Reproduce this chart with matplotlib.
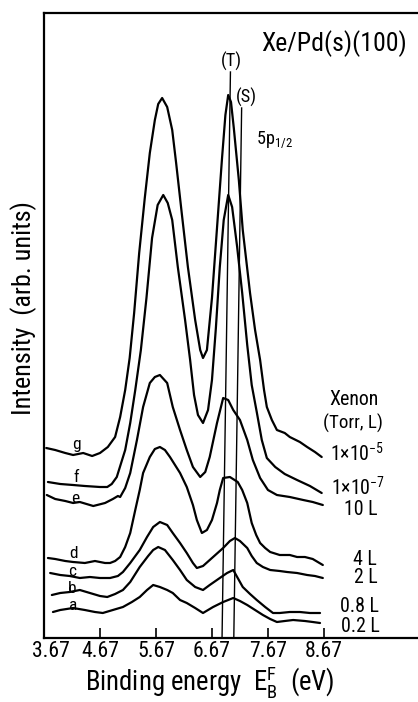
import matplotlib
matplotlib.use("Agg")
import matplotlib.pyplot as plt
from matplotlib import font_manager
from matplotlib.transforms import ScaledTranslation

installed = {f.name for f in font_manager.fontManager.ttflist}
narrow_candidates = ['Liberation Sans Narrow', 'DejaVu Sans Condensed', 'Roboto Condensed',
                     'Open Sans Condensed', 'Noto Sans Condensed', 'Roboto']
main_font = next((n for n in narrow_candidates if n in installed), 'DejaVu Sans')

plt.rcParams['font.family'] = [main_font, 'DejaVu Sans']
plt.rcParams['mathtext.fontset'] = 'custom'
plt.rcParams['mathtext.rm'] = main_font
plt.rcParams['mathtext.it'] = main_font
plt.rcParams['mathtext.bf'] = main_font

# ---- spectra: binding energy (eV) vs intensity (arb. units, stacked) ----
energy_a = [3.83, 3.96, 4.19, 4.40, 4.58, 4.72, 4.90, 5.08, 5.24, 5.38, 5.51, 5.62, 5.74, 5.87, 5.97,
            6.10, 6.22, 6.37, 6.51, 6.60, 6.69, 6.87, 7.05, 7.17, 7.30, 7.44, 7.58, 7.71, 7.83, 7.97,
            8.12, 8.33, 8.47, 8.60]
intensity_a = [2.6, 2.8, 3.0, 2.8, 2.6, 2.5, 2.8, 3.1, 3.6, 4.1, 4.8, 5.3, 5.1, 4.8, 4.5,
               3.8, 3.5, 3.0, 2.5, 2.8, 3.1, 3.6, 4.0, 3.7, 3.3, 2.8, 2.3, 1.9, 1.6, 1.7,
               1.8, 1.7, 1.6, 1.5]

energy_b = [3.81, 3.96, 4.13, 4.31, 4.49, 4.67, 4.80, 4.94, 5.08, 5.21, 5.38, 5.53, 5.62, 5.71, 5.83,
            5.97, 6.10, 6.22, 6.37, 6.51, 6.63, 6.81, 6.94, 7.05, 7.13, 7.22, 7.35, 7.47, 7.62, 7.76,
            7.88, 8.06, 8.24, 8.42, 8.60]
intensity_b = [4.3, 4.5, 4.6, 4.8, 4.5, 4.2, 4.1, 4.4, 4.8, 5.6, 7.1, 8.2, 8.8, 9.1, 8.8,
               7.8, 6.8, 5.8, 5.1, 4.8, 5.3, 6.0, 6.5, 6.8, 6.0, 5.1, 4.4, 3.8, 3.1, 2.5,
               2.5, 2.6, 2.6, 2.5, 2.5]

energy_c = [3.78, 3.96, 4.13, 4.31, 4.49, 4.67, 4.85, 4.99, 5.08, 5.21, 5.38, 5.51, 5.62, 5.74, 5.87,
            5.97, 6.10, 6.22, 6.33, 6.40, 6.51, 6.69, 6.87, 6.99, 7.08, 7.17, 7.30, 7.38, 7.47, 7.58,
            7.71, 7.88, 8.01, 8.19, 8.37, 8.51, 8.65]
intensity_c = [6.5, 6.3, 6.2, 6.0, 6.1, 6.0, 6.0, 6.2, 6.6, 7.5, 8.8, 10.1, 11.1, 11.6, 11.3,
               10.5, 9.5, 8.5, 7.5, 7.0, 7.2, 8.1, 9.0, 9.7, 10.0, 9.7, 9.0, 8.2, 7.5, 7.1,
               6.8, 6.7, 6.6, 6.5, 6.3, 6.2, 6.0]

energy_d = [3.74, 3.87, 4.05, 4.19, 4.40, 4.58, 4.76, 4.85, 4.94, 5.03, 5.12, 5.21, 5.30, 5.38, 5.44,
            5.56, 5.65, 5.74, 5.83, 5.92, 6.01, 6.10, 6.22, 6.33, 6.40, 6.49, 6.58, 6.67, 6.76, 6.81,
            6.87, 6.99, 7.13, 7.21, 7.30, 7.38, 7.46, 7.53, 7.62, 7.71, 7.88, 8.06, 8.19, 8.33, 8.47,
            8.65]
intensity_d = [8.0, 7.9, 7.7, 7.6, 7.5, 7.7, 7.5, 7.5, 7.7, 8.1, 9.1, 10.5, 12.8, 14.8, 16.5,
               18.1, 18.9, 19.1, 18.8, 18.1, 17.3, 16.5, 15.1, 13.3, 11.8, 10.5, 10.8, 11.8, 13.5, 14.8,
               16.0, 16.1, 15.6, 14.8, 13.5, 11.5, 10.3, 9.5, 9.0, 8.6, 8.3, 8.3, 8.1, 8.1, 7.9,
               7.3]

energy_e = [3.72, 3.87, 4.05, 4.19, 4.31, 4.55, 4.76, 4.90, 4.99, 5.03, 5.12, 5.21, 5.33, 5.44, 5.56,
            5.65, 5.74, 5.87, 5.97, 6.10, 6.22, 6.33, 6.46, 6.55, 6.63, 6.76, 6.87, 6.96, 7.05, 7.17,
            7.30, 7.40, 7.53, 7.67, 7.83, 8.06, 8.30, 8.47, 8.65]
intensity_e = [14.3, 13.9, 13.7, 13.5, 13.6, 13.2, 13.5, 13.9, 14.2, 14.1, 15.0, 16.5, 19.8, 23.1, 25.5,
               26.1, 26.3, 25.5, 23.1, 20.8, 18.8, 17.1, 16.1, 16.6, 18.1, 21.5, 24.0, 23.8, 22.8, 21.8,
               19.8, 17.8, 16.0, 14.8, 14.3, 14.1, 13.8, 13.6, 13.3]

energy_f = [3.74, 3.96, 4.19, 4.40, 4.67, 4.80, 4.88, 4.97, 5.12, 5.21, 5.30, 5.40, 5.50, 5.60, 5.70,
            5.80, 5.88, 5.96, 6.06, 6.19, 6.28, 6.35, 6.42, 6.51, 6.60, 6.67, 6.74, 6.81, 6.88, 6.96,
            7.03, 7.12, 7.21, 7.30, 7.38, 7.47, 7.56, 7.65, 7.80, 7.97, 8.19, 8.42, 8.63]
intensity_f = [15.6, 15.4, 15.3, 15.2, 15.1, 15.1, 15.4, 16.1, 18.8, 21.5, 24.8, 28.8, 34.0, 40.0, 43.3,
               44.3, 43.5, 41.8, 37.1, 31.8, 27.8, 24.3, 22.3, 21.5, 22.8, 25.8, 31.0, 37.1, 41.8, 44.3,
               43.1, 39.1, 34.5, 29.3, 25.3, 22.6, 19.8, 18.0, 17.1, 16.4, 15.8, 15.2, 14.5]

energy_g = [3.71, 3.87, 4.05, 4.19, 4.37, 4.53, 4.67, 4.81, 4.94, 5.03, 5.12, 5.20, 5.28, 5.37,
            5.47, 5.56, 5.65, 5.71, 5.78, 5.87, 5.96, 6.03, 6.13, 6.24, 6.37, 6.46, 6.51, 6.58, 6.67,
            6.76, 6.85, 6.91, 6.96, 7.01, 7.06, 7.15, 7.22, 7.35, 7.44, 7.53, 7.60, 7.65, 7.74, 7.83,
            7.97, 8.06, 8.24, 8.37, 8.51, 8.63]
intensity_g = [19.0, 18.8, 18.5, 18.3, 18.5, 18.2, 18.5, 19.1, 20.1, 22.1, 24.8, 28.0, 32.5, 38.5,
               44.0, 48.5, 51.8, 53.4, 54.0, 53.1, 50.8, 47.5, 42.5, 37.1, 31.8, 28.8, 28.0, 28.8, 34.0,
               41.0, 48.0, 52.3, 54.3, 53.6, 51.0, 45.8, 40.8, 34.5, 30.8, 27.8, 24.8, 23.1, 21.8, 20.8,
               20.5, 20.1, 19.6, 19.1, 18.6, 18.1]

curve_letters = ['a', 'b', 'c', 'd', 'e', 'f', 'g']
exposures = ['0.2 L', '0.8 L', '2 L', '4 L', '10 L', r'1$\times$10$^{-7}$', r'1$\times$10$^{-5}$']

# reference lines for the terrace (T) and step (S) 5p1/2 components: (bottom, top) energy, top height
line_T_energy = [6.85, 7.00]
line_T_height = [0.0, 56.6]
line_S_energy = [7.06, 7.20]
line_S_height = [0.0, 53.0]

tick_values = [3.67, 4.67, 5.67, 6.67, 7.67, 8.67]
tick_labels = ['3.67', '4.67', '5.67', '6.67', '7.67', '8.67']

W, H = 418, 702
fig = plt.figure(figsize=(W / 100, H / 100), dpi=100)
ax = fig.add_axes([44 / W, (H - 638) / H, (W - 44) / W, (638 - 13) / H])
ax.set_xlim(3.67, 10.35)
ax.set_ylim(0, 62.5)

spectra = [(energy_a, intensity_a), (energy_b, intensity_b), (energy_c, intensity_c),
           (energy_d, intensity_d), (energy_e, intensity_e), (energy_f, intensity_f),
           (energy_g, intensity_g)]
for en, inten in spectra:
    ax.plot(en, inten, color='black', lw=1.6, solid_joinstyle='round', solid_capstyle='round')

ax.plot(line_T_energy, line_T_height, color='black', lw=1.0)
ax.plot(line_S_energy, line_S_height, color='black', lw=1.0)

for side in ['left', 'bottom', 'top']:
    ax.spines[side].set_linewidth(1.6)
ax.spines['right'].set_visible(False)

renderer = fig.canvas.get_renderer()


def size_for_width(s, width, ref=16):
    """Font size at which text s spans the given pixel width."""
    probe = fig.text(0, 0, s, fontsize=ref)
    w = probe.get_window_extent(renderer).width
    probe.remove()
    return ref * width / w


def fig_text(x, y, s, size, **kw):
    """Place text at pixel (x, y measured from the top)."""
    return fig.text(x / W, 1 - y / H, s, fontsize=size, **kw)


tick_size = size_for_width('8.67', 38)
ax.set_xticks(tick_values)
ax.set_xticklabels(tick_labels, fontsize=tick_size)
ax.tick_params(axis='x', direction='in', length=7.5, width=1.2, pad=2)
ax.set_yticks([])
# the first label sits a little right of the axis corner
first = ax.get_xticklabels()[0]
first.set_transform(first.get_transform() + ScaledTranslation(7 / 100, 0, fig.dpi_scale_trans))

fig_text(407, 51, 'Xe/Pd(s)(100)', size_for_width('Xe/Pd(s)(100)', 146), ha='right', va='baseline')
small = size_for_width('(T)', 21)
fig_text(231, 67, '(T)', small, ha='center', va='baseline')
fig_text(246, 103, '(S)', small, ha='center', va='baseline')
fig_text(256, 144, r'5p$_{1/2}$', small, ha='left', va='baseline')

# spectrum letters at the left end of each trace
letter_size = small * 0.95
letter_pos = [(73, 610), (72, 593), (72, 576), (73, 558), (75, 503), (76, 482), (76, 449)]
for (x, y), s in zip(letter_pos, curve_letters):
    fig_text(x, y, s, letter_size, ha='center', va='baseline')

label_size = size_for_width('0.8 L', 39)
fig_text(354, 405, 'Xenon', label_size, ha='center', va='baseline')
fig_text(353, 429, '(Torr, L)', label_size * 0.95, ha='center', va='baseline')
exposure_pos = [(360, 632), (359, 612), (366, 583), (365, 565), (361, 515), (358, 495), (357, 462)]
for (x, y), s in zip(exposure_pos, exposures):
    fig_text(x, y, s, label_size, ha='center', va='baseline')

fig_text(24, 308, 'Intensity  (arb. units)', size_for_width('Intensity  (arb. units)', 215),
         rotation=90, ha='center', va='center')
xlabel = r'Binding energy  E$_{\mathrm{B}}^{\mathrm{F}}$  (eV)'
fig_text(210, 691, xlabel, size_for_width(xlabel, 250), ha='center', va='baseline')

fig.savefig('out.png', dpi=100)
